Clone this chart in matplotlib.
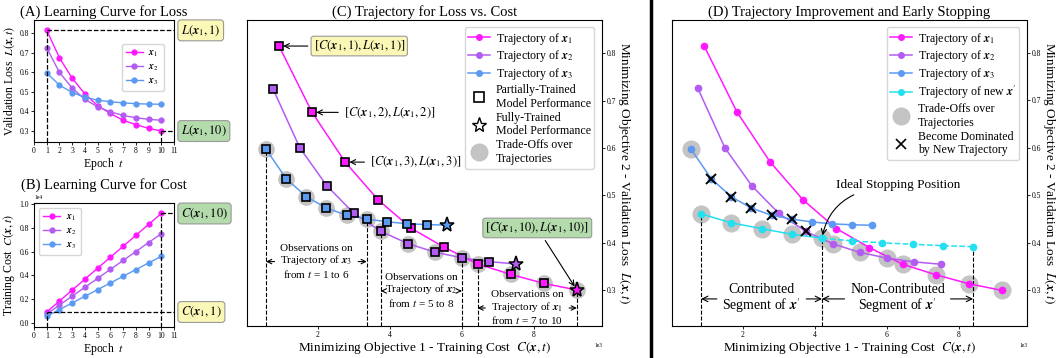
import numpy as np
import matplotlib
matplotlib.use('Agg')
import matplotlib.pyplot as plt
from matplotlib.lines import Line2D

plt.rcParams['font.family'] = 'serif'
plt.rcParams['font.serif'] = ['Liberation Serif', 'DejaVu Serif']
plt.rcParams['mathtext.fontset'] = 'stix'

# data
epochs = [1, 2, 3, 4, 5, 6, 7, 8, 9, 10]
loss_x1 = [0.815, 0.675, 0.57, 0.49, 0.43, 0.39, 0.355, 0.333, 0.314, 0.30]
loss_x2 = [0.725, 0.60, 0.52, 0.462, 0.424, 0.398, 0.38, 0.368, 0.36, 0.355]
loss_x3 = [0.597, 0.535, 0.497, 0.473, 0.458, 0.45, 0.444, 0.44, 0.438, 0.437]
cost_x1 = [920, 1840, 2760, 3680, 4600, 5520, 6440, 7360, 8280, 9200]
cost_x2 = [750, 1500, 2250, 3000, 3750, 4500, 5250, 6000, 6750, 7500]
cost_x3 = [560, 1120, 1680, 2240, 2800, 3360, 3920, 4480, 5040, 5600]
# new trajectory x' in panel D
cost_new = [840, 1680, 2520, 3360, 4200, 5040, 5880, 6720, 7560, 8400]
loss_new = [0.461, 0.442, 0.43, 0.418, 0.41, 0.404, 0.40, 0.397, 0.394, 0.392]

# epochs (1-based) on the trade-off front
front_c = {'x1': [7, 8, 9, 10], 'x2': [5, 6, 7, 8], 'x3': [1, 2, 3, 4, 5, 6]}
front_d = {'x1': [7, 8, 9, 10], 'x2': [6, 7, 8], 'x3': [1], 'new': [1, 2, 3, 4, 5]}
dominated_d = {'x2': [5], 'x3': [2, 3, 4, 5, 6]}

c1, c2, c3, cn = '#ff19ff', '#b35cf2', '#5c9af2', '#22e0f0'
gray = '#c4c4c4'
yellow = '#fbf7b6'
green = '#b3dbac'

X = [r'$\boldsymbol{x}_1$', r'$\boldsymbol{x}_2$', r'$\boldsymbol{x}_3$']
XP = r'$\boldsymbol{x}^{\prime}$'

W, H = 1056, 358
fig = plt.figure(figsize=(W / 100, H / 100), dpi=100)


def box(l, r, t, b):
    return [l / W, (H - b) / H, (r - l) / W, (b - t) / H]


def small_ticks(ax):
    ax.tick_params(labelsize=5.5, length=2, width=0.6, pad=1.5)


# ---------- (A) ----------
axA = fig.add_axes(box(34, 174, 20, 142))
axA.plot(epochs, loss_x1, '-o', color=c1, ms=3.5, lw=1, label=X[0])
axA.plot(epochs, loss_x2, '-o', color=c2, ms=3.5, lw=1, label=X[1])
axA.plot(epochs, loss_x3, '-o', color=c3, ms=3.5, lw=1, label=X[2])
axA.set_xlim(0, 11)
axA.set_ylim(0.244, 0.868)
axA.set_xticks(range(0, 12))
axA.set_yticks([0.3, 0.4, 0.5, 0.6, 0.7, 0.8])
small_ticks(axA)
yb = axA.get_ylim()[0]
axA.plot([1, 1], [yb, loss_x1[0]], 'k--', lw=0.9)
axA.plot([1, 11], [loss_x1[0]] * 2, 'k--', lw=0.9)
axA.plot([10, 10], [yb, loss_x1[-1]], 'k--', lw=0.9)
axA.plot([10, 11], [loss_x1[-1]] * 2, 'k--', lw=0.9)
axA.text(1.05, loss_x1[0], r'$L(\boldsymbol{x}_1, 1)$', transform=axA.get_yaxis_transform(),
         va='center', ha='left', fontsize=9,
         bbox=dict(boxstyle='round,pad=0.25', fc=yellow, ec='#999999', lw=0.8))
axA.text(1.05, loss_x1[-1], r'$L(\boldsymbol{x}_1, 10)$', transform=axA.get_yaxis_transform(),
         va='center', ha='left', fontsize=9,
         bbox=dict(boxstyle='round,pad=0.25', fc=green, ec='#999999', lw=0.8))
axA.set_title('(A) Learning Curve for Loss', fontsize=10.5, pad=3)
axA.set_xlabel(r'Epoch  $t$', fontsize=8.5, labelpad=1)
axA.set_ylabel(r'Validation Loss  $L(\boldsymbol{x}, t)$', fontsize=8.5, labelpad=2)
axA.legend(loc='upper right', bbox_to_anchor=(0.96, 0.84), fontsize=7, handlelength=1.7,
           borderpad=0.45, labelspacing=0.35, handletextpad=0.6)

# ---------- (B) ----------
axB = fig.add_axes(box(34, 174, 203, 327))
axB.plot(epochs, cost_x1, '-o', color=c1, ms=3.5, lw=1, label=X[0])
axB.plot(epochs, cost_x2, '-o', color=c2, ms=3.5, lw=1, label=X[1])
axB.plot(epochs, cost_x3, '-o', color=c3, ms=3.5, lw=1, label=X[2])
axB.set_xlim(0, 11)
axB.set_ylim(-340, 10080)
axB.set_xticks(range(0, 12))
axB.set_yticks([0, 2000, 4000, 6000, 8000, 10000])
axB.ticklabel_format(axis='y', style='sci', scilimits=(4, 4))
axB.yaxis.offsetText.set_fontsize(4)
small_ticks(axB)
yb = axB.get_ylim()[0]
axB.plot([10, 10], [yb, cost_x1[-1]], 'k--', lw=0.9)
axB.plot([10, 11], [cost_x1[-1]] * 2, 'k--', lw=0.9)
axB.plot([1, 1], [yb, cost_x1[0]], 'k--', lw=0.9)
axB.plot([1, 11], [cost_x1[0]] * 2, 'k--', lw=0.9)
axB.text(1.05, cost_x1[-1], r'$C(\boldsymbol{x}_1, 10)$', transform=axB.get_yaxis_transform(),
         va='center', ha='left', fontsize=9,
         bbox=dict(boxstyle='round,pad=0.25', fc=green, ec='#999999', lw=0.8))
axB.text(1.05, cost_x1[0], r'$C(\boldsymbol{x}_1, 1)$', transform=axB.get_yaxis_transform(),
         va='center', ha='left', fontsize=9,
         bbox=dict(boxstyle='round,pad=0.25', fc=yellow, ec='#999999', lw=0.8))
axB.set_title('(B) Learning Curve for Cost', fontsize=10.5, pad=4)
axB.set_xlabel(r'Epoch  $t$', fontsize=8.5, labelpad=1)
axB.set_ylabel(r'Training Cost  $C(\boldsymbol{x}, t)$', fontsize=8.5, labelpad=2)
axB.legend(loc='upper left', fontsize=7, handlelength=1.7, borderpad=0.45, labelspacing=0.35,
           handletextpad=0.6)


def right_y(ax):
    ax.yaxis.tick_right()
    ax.yaxis.set_label_position('right')
    ax.set_ylabel(r'Minimizing Objective 2 - Validation Loss  $L(\boldsymbol{x}, t)$',
                  fontsize=9.5, rotation=270, labelpad=11)
    ax.set_xlabel(r'Minimizing Objective 1 - Training Cost  $C(\boldsymbol{x}, t)$',
                  fontsize=9.5, labelpad=1)
    ax.set_xlim(30, 9900)
    ax.set_xticks([2000, 4000, 6000, 8000])
    ax.set_yticks([0.3, 0.4, 0.5, 0.6, 0.7, 0.8])
    ax.ticklabel_format(axis='x', style='sci', scilimits=(3, 3))
    ax.xaxis.offsetText.set_fontsize(4)
    small_ticks(ax)


def span(ax, x0, x1, y, text, fs):
    ax.annotate(text, xy=(x0, y), xytext=((x0 + x1) / 2, y), ha='center', va='center',
                fontsize=fs, linespacing=1.05,
                arrowprops=dict(arrowstyle='->', lw=0.8, color='k', shrinkB=0))
    ax.annotate(text, xy=(x1, y), xytext=((x0 + x1) / 2, y), ha='center', va='center',
                fontsize=fs, linespacing=1.05, color='none',
                arrowprops=dict(arrowstyle='->', lw=0.8, color='k', shrinkB=0))


costs = [cost_x1, cost_x2, cost_x3]
losses = [loss_x1, loss_x2, loss_x3]
cols = [c1, c2, c3]
keys = ['x1', 'x2', 'x3']
leg_kw = dict(loc='upper right', bbox_to_anchor=(0.985, 0.985), fontsize=8.6,
              handlelength=1.8, labelspacing=0.15, borderpad=0.3, handletextpad=0.5,
              borderaxespad=0.2)

# ---------- (C) ----------
axC = fig.add_axes(box(247, 602, 20, 326))
axC.set_ylim(0.224, 0.87)
for k, cs, ls, col in zip(keys, costs, losses, cols):
    idx = [t - 1 for t in front_c[k]]
    axC.plot([cs[i] for i in idx], [ls[i] for i in idx], 'o', color=gray, ms=11, zorder=1)
for cs, ls, col in zip(costs, losses, cols):
    axC.plot(cs, ls, '-', color=col, lw=1.1, zorder=2)
    axC.plot(cs[:-1], ls[:-1], 's', mfc=col, mec='k', mew=1.2, ms=5.5, zorder=3)
    axC.plot(cs[-1], ls[-1], '*', mfc=col, mec='k', mew=1.1, ms=11, zorder=3)
yb = axC.get_ylim()[0]
for cs, ls, t in [(cost_x3, loss_x3, 1), (cost_x3, loss_x3, 6), (cost_x2, loss_x2, 5),
                  (cost_x2, loss_x2, 8), (cost_x1, loss_x1, 7), (cost_x1, loss_x1, 10)]:
    axC.plot([cs[t - 1]] * 2, [yb, ls[t - 1]], 'k--', lw=0.8, zorder=1)
span(axC, cost_x3[0], cost_x3[5], 0.36, 'Observations on\nTrajectory of ' + X[2] + '\nfrom $t$ = 1 to 6', 8)
span(axC, cost_x2[4], cost_x2[7], 0.298, 'Observations on\nTrajectory of ' + X[1] + '\nfrom $t$ = 5 to 8', 8)
span(axC, cost_x1[6], cost_x1[9], 0.262, 'Observations on\nTrajectory of ' + X[0] + '\nfrom $t$ = 7 to 10', 8)
ap = dict(arrowstyle='->', lw=0.8, color='k', shrinkB=3)
axC.annotate(r'$[C(\boldsymbol{x}_1, 1), L(\boldsymbol{x}_1, 1)]$', xy=(cost_x1[0], loss_x1[0]),
             xytext=(3150, loss_x1[0]), ha='center', va='center', fontsize=9, arrowprops=ap,
             bbox=dict(boxstyle='round,pad=0.2', fc=yellow, ec='#999999', lw=0.8))
axC.annotate(r'$[C(\boldsymbol{x}_1, 2), L(\boldsymbol{x}_1, 2)]$', xy=(cost_x1[1], loss_x1[1]),
             xytext=(3990, loss_x1[1]), ha='center', va='center', fontsize=9, arrowprops=ap)
axC.annotate(r'$[C(\boldsymbol{x}_1, 3), L(\boldsymbol{x}_1, 3)]$', xy=(cost_x1[2], loss_x1[2]),
             xytext=(4720, loss_x1[2]), ha='center', va='center', fontsize=9, arrowprops=ap)
axC.annotate(r'$[C(\boldsymbol{x}_1, 10), L(\boldsymbol{x}_1, 10)]$', xy=(cost_x1[9], loss_x1[9]),
             xytext=(8100, 0.431), ha='center', va='center', fontsize=9, arrowprops=ap,
             bbox=dict(boxstyle='round,pad=0.2', fc=green, ec='#999999', lw=0.8))
right_y(axC)
axC.set_title('(C) Trajectory for Loss vs. Cost', fontsize=10.5, pad=3)
hC = [Line2D([], [], color=col, marker='o', ms=4, lw=1.1) for col in cols]
hC += [Line2D([], [], ls='none', marker='s', mfc='white', mec='k', mew=1.2, ms=7),
       Line2D([], [], ls='none', marker='*', mfc='white', mec='k', mew=1.0, ms=11),
       Line2D([], [], ls='none', marker='o', color=gray, ms=12)]
labC = ['Trajectory of ' + x for x in X] + ['Partially-Trained\nModel Performance',
                                          'Fully-Trained\nModel Performance',
                                          'Trade-Offs over\nTrajectories']
axC.legend(hC, labC, **leg_kw)

# ---------- (D) ----------
axD = fig.add_axes(box(672, 1027, 20, 326))
axD.set_ylim(0.225, 0.869)
for k, cs, ls in zip(keys + ['new'], costs + [cost_new], losses + [loss_new]):
    idx = [t - 1 for t in front_d.get(k, [])]
    axD.plot([cs[i] for i in idx], [ls[i] for i in idx], 'o', color=gray, ms=12, zorder=1)
for cs, ls, col in zip(costs, losses, cols):
    axD.plot(cs, ls, '-o', color=col, lw=1.1, ms=4.5, zorder=2)
axD.plot(cost_new[:5], loss_new[:5], '-o', color=cn, lw=1.1, ms=4.5, zorder=2)
axD.plot(cost_new[4:], loss_new[4:], '--o', color=cn, lw=1.1, ms=4.5, zorder=2)
for k, cs, ls in zip(keys, costs, losses):
    idx = [t - 1 for t in dominated_d.get(k, [])]
    axD.plot([cs[i] for i in idx], [ls[i] for i in idx], 'x', color='k', ms=7, mew=1.4, zorder=4)
yb = axD.get_ylim()[0]
for t in [1, 5, 10]:
    axD.plot([cost_new[t - 1]] * 2, [yb, loss_new[t - 1]], 'k--', lw=0.8, zorder=1)
span(axD, cost_new[0], cost_new[4], 0.282, 'Contributed\nSegment of ' + XP, 10)
span(axD, cost_new[4], cost_new[9], 0.282, 'Non-Contributed\nSegment of ' + XP, 10)
axD.annotate('Ideal Stopping Position', xy=(cost_new[4], loss_new[4]), xytext=(6330, 0.522),
             ha='center', va='center', fontsize=9.5,
             arrowprops=dict(arrowstyle='->', lw=0.8, color='k', shrinkB=2, relpos=(0.22, 0),
                             connectionstyle='arc3,rad=0.3'))
right_y(axD)
axD.set_title('(D) Trajectory Improvement and Early Stopping', fontsize=10.5, pad=3)
hD = [Line2D([], [], color=col, marker='o', ms=4, lw=1.1) for col in cols + [cn]]
hD += [Line2D([], [], ls='none', marker='o', color=gray, ms=12),
       Line2D([], [], ls='none', marker='x', color='k', mew=1.2, ms=7)]
labD = ['Trajectory of ' + x for x in X] + ['Trajectory of new ' + XP,
                                          'Trade-Offs over\nTrajectories',
                                          'Become Dominated\nby New Trajectory']
axD.legend(hD, labD, **leg_kw)

# separator between C and D
fig.add_artist(Line2D([651 / W, 651 / W], [0, 1], color='k', lw=2.5, transform=fig.transFigure))

fig.savefig('out.png', dpi=100)
